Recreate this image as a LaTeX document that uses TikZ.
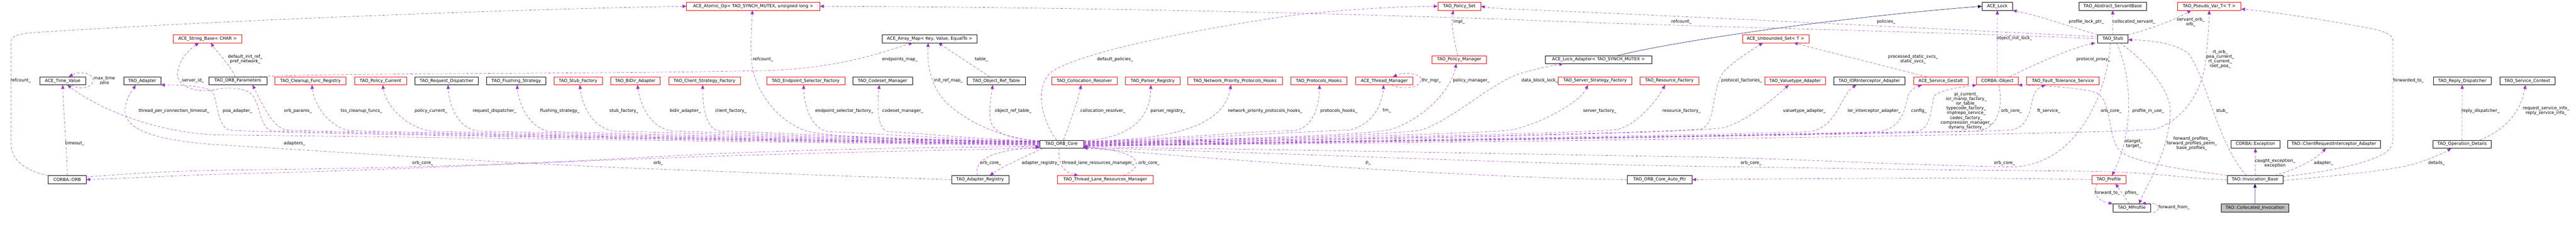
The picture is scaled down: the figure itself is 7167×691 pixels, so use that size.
\documentclass[tikz,border=0pt]{standalone}
\usepackage{fontspec}
\setmainfont{DejaVu Sans}
\usetikzlibrary{arrows.meta}
\definecolor{edgepurple}{RGB}{154,50,205}
\definecolor{basenavy}{RGB}{25,25,112}

\begin{document}
\begin{tikzpicture}[
        x=1pt, y=-1pt,
        box/.style={rectangle, draw, fill=white, line width=0.8pt, minimum height=22pt, inner sep=3pt, font=\fontsize{12}{13}\selectfont},
        redbox/.style={box, draw=red},
        rootbox/.style={box, fill=black!25},
        lbl/.style={inner sep=0pt, align=center, font=\fontsize{12}{13}\selectfont},
        memberedge/.style={draw=edgepurple, line width=0.8pt, dash pattern=on 7pt off 5pt, -{Triangle[length=11pt,width=9pt]}},
        baseedge/.style={draw=basenavy, line width=0.9pt, -{Triangle[length=11pt,width=9pt]}}
    ]
        \useasboundingbox (0,0) rectangle (7167,691);

        \node[redbox, minimum width=370.5pt] (atomic) at (2095.5,17.4) {ACE\_Atomic\_Op< TAO\_SYNCH\_MUTEX, unsigned long >};
        \node[redbox, minimum width=119.4pt] (pset) at (4060,17.4) {TAO\_Policy\_Set};
        \node[box, minimum width=85pt] (acelock) at (5556.9,17.4) {ACE\_Lock};
        \node[box, minimum width=189pt] (servbase) at (5878,17.4) {TAO\_Abstract\_ServantBase};
        \node[redbox, minimum width=176.4pt] (pvar) at (6146.4,17.4) {TAO\_Pseudo\_Var\_T< T >};

        \node[redbox, minimum width=189.7pt] (strbase) at (577.5,107.7) {ACE\_String\_Base< CHAR >};
        \node[box, minimum width=264.5pt] (amap) at (2586.5,107.7) {ACE\_Array\_Map< Key, Value, EqualTo >};
        \node[redbox, minimum width=184.8pt] (uset) at (4939.9,107.7) {ACE\_Unbounded\_Set< T >};
        \node[box, minimum width=84.2pt] (stub) at (5878.4,107.7) {TAO\_Stub};

        \node[redbox, minimum width=152.3pt] (pmgr) at (4059.7,165.9) {TAO\_Policy\_Manager};
        \node[box, minimum width=295.8pt] (lockad) at (4447.4,165.9) {ACE\_Lock\_Adapter< TAO\_SYNCH\_MUTEX >};

        \node[box, minimum width=128.6pt] (timeval) at (174.5,224.8) {ACE\_Time\_Value};
        \node[box, minimum width=103pt] (adapter) at (395.9,224.8) {TAO\_Adapter};
        \node[box, minimum width=162.2pt] (orbparams) at (661.6,224.8) {TAO\_ORB\_Parameters};
        \node[redbox, minimum width=198.2pt] (cleanup) at (863.7,224.8) {TAO\_Cleanup\_Func\_Registry};
        \node[redbox, minimum width=144.3pt] (pcurrent) at (1058.7,224.8) {TAO\_Policy\_Current};
        \node[box, minimum width=176pt] (reqdisp) at (1242.5,224.8) {TAO\_Request\_Dispatcher};
        \node[box, minimum width=164.6pt] (flush) at (1436.5,224.8) {TAO\_Flushing\_Strategy};
        \node[redbox, minimum width=135.1pt] (stubfac) at (1608.2,224.8) {TAO\_Stub\_Factory};
        \node[redbox, minimum width=138.4pt] (bidir) at (1767.5,224.8) {TAO\_BiDir\_Adapter};
        \node[redbox, minimum width=199pt] (clientfac) at (1960,224.8) {TAO\_Client\_Strategy\_Factory};
        \node[redbox, minimum width=218.1pt] (endpfac) at (2241.7,224.8) {TAO\_Endpoint\_Selector\_Factory};
        \node[box, minimum width=166pt] (codeset) at (2455.5,224.8) {TAO\_Codeset\_Manager};
        \node[box, minimum width=161.5pt] (oreftab) at (2772,224.8) {TAO\_Object\_Ref\_Table};
        \node[redbox, minimum width=180.9pt] (collres) at (3017,224.8) {TAO\_Collocation\_Resolver};
        \node[redbox, minimum width=151.5pt] (parser) at (3207,224.8) {TAO\_Parser\_Registry};
        \node[redbox, minimum width=263.3pt] (npph) at (3435.9,224.8) {TAO\_Network\_Priority\_Protocols\_Hooks};
        \node[redbox, minimum width=157.2pt] (phooks) at (3669.1,224.8) {TAO\_Protocols\_Hooks};
        \node[redbox, minimum width=160pt] (thrmgr) at (3851.4,224.8) {ACE\_Thread\_Manager};
        \node[redbox, minimum width=204.3pt] (servfac) at (4437.7,224.8) {TAO\_Server\_Strategy\_Factory};
        \node[redbox, minimum width=164.2pt] (resfac) at (4644.5,224.8) {TAO\_Resource\_Factory};
        \node[redbox, minimum width=168.4pt] (valadapt) at (4994.4,224.8) {TAO\_Valuetype\_Adapter};
        \node[box, minimum width=197.5pt] (iorint) at (5201,224.8) {TAO\_IORInterceptor\_Adapter};
        \node[redbox, minimum width=151.9pt] (gestalt) at (5399.5,224.8) {ACE\_Service\_Gestalt};
        \node[redbox, minimum width=115.2pt] (corbaobj) at (5557.1,224.8) {CORBA::Object};
        \node[redbox, minimum width=202.1pt] (ftserv) at (5739.5,224.8) {TAO\_Fault\_Tolerance\_Service};
        \node[box, minimum width=159.6pt] (replydisp) at (6850.4,224.8) {TAO\_Reply\_Dispatcher};
        \node[box, minimum width=153.5pt] (svcctx) at (7031.5,224.8) {TAO\_Service\_Context};

        \node[box, minimum width=122pt] (orbcore) at (2953.5,400.9) {TAO\_ORB\_Core};
        \node[box, minimum width=135.1pt] (exception) at (6275,400.9) {CORBA::Exception};
        \node[box, minimum width=258.2pt] (cria) at (6493.4,400.9) {TAO::ClientRequestInterceptor\_Adapter};
        \node[box, minimum width=163pt] (opdet) at (6849.8,400.9) {TAO\_Operation\_Details};

        \node[box, minimum width=105.3pt] (orb) at (187,499.4) {CORBA::ORB};
        \node[box, minimum width=159.2pt] (adreg) at (2726.8,499.4) {TAO\_Adapter\_Registry};
        \node[redbox, minimum width=265.5pt] (tlrm) at (3075,499.4) {TAO\_Thread\_Lane\_Resources\_Manager};
        \node[box, minimum width=179.9pt] (autoptr) at (4617.5,499.4) {TAO\_ORB\_Core\_Auto\_Ptr};
        \node[redbox, minimum width=94.9pt] (profile) at (5866.9,499.4) {TAO\_Profile};
        \node[box, minimum width=155pt] (invbase) at (6273.8,499.4) {TAO::Invocation\_Base};

        \node[box, minimum width=104.8pt] (mprofile) at (5930.8,578.1) {TAO\_MProfile};
        \node[rootbox, minimum width=187.1pt] (collinv) at (6273.9,578.1) {TAO::Collocated\_Invocation};

        \draw[memberedge] (orbcore.184) .. controls (2000,392) and (900,378) .. (600,375) .. controls (430,368) and (270,300) .. ([xshift=13pt]timeval.south);
        \draw[memberedge] ([xshift=24pt]timeval.south) .. controls (215,248) and (250,248) .. (258,228) .. controls (265,205) and (225,195) .. ([xshift=17pt]timeval.north);
        \draw[memberedge] (orbcore.182) .. controls (2000,390) and (950,370) .. (760,364) .. controls (725,361) and (725,300) .. (705,268) .. controls (690,245) and (640,240) .. (600,249) .. controls (545,260) and (492,240) .. (494,205) .. controls (496,165) and (530,135) .. ([xshift=-24pt]strbase.south);
        \draw[memberedge] (orbcore.181) .. controls (2000,390) and (800,372) .. (640,362) .. controls (605,356) and (605,280) .. (592,256) .. controls (575,240) and (520,237) .. (adapter.south east);
        \draw[memberedge] (orbcore.180) .. controls (2000,388) and (1000,368) .. (800,362) .. controls (760,358) and (730,290) .. ([xshift=41pt]orbparams.south);
        \draw[memberedge] ([xshift=-7pt]orbparams.north) .. controls (640,180) and (600,140) .. ([xshift=9pt]strbase.south);
        \draw[memberedge] ([xshift=60pt]orbparams.north) .. controls (850,203) and (1700,206) .. (2140,196) .. controls (2350,188) and (2470,140) .. ([xshift=-47pt]amap.south);
        \draw[memberedge] (orbcore.179) .. controls (2000,388) and (1150,368) .. (975,363) .. controls (925,358) and (875,300) .. ([xshift=4pt]cleanup.south);
        \draw[memberedge] (orbcore.178) .. controls (2100,388) and (1400,370) .. (1205,365) .. controls (1140,360) and (1075,300) .. ([xshift=6pt]pcurrent.south);
        \draw[memberedge] (orbcore.177) .. controls (2200,388) and (1550,370) .. (1330,364) .. controls (1280,360) and (1250,300) .. ([xshift=4pt]reqdisp.south);
        \draw[memberedge] (orbcore.176) .. controls (2250,386) and (1700,370) .. (1535,366) .. controls (1480,362) and (1445,300) .. ([xshift=2pt]flush.south);
        \draw[memberedge] (orbcore.175) .. controls (2300,386) and (1850,368) .. (1710,364) .. controls (1655,360) and (1620,300) .. ([xshift=5pt]stubfac.south);
        \draw[memberedge] (orbcore.174) .. controls (2400,386) and (2000,368) .. (1870,364) .. controls (1820,358) and (1785,310) .. ([xshift=6pt]bidir.south);
        \draw[memberedge] (orbcore.174) .. controls (2450,386) and (2150,368) .. (2000,364) .. controls (1965,358) and (1955,300) .. ([xshift=-5pt]clientfac.south);
        \draw[memberedge] (orbcore.173) .. controls (2600,392) and (2330,384) .. (2250,366) .. controls (2175,345) and (2095,260) .. (2090,160) .. controls (2088,100) and (2092,60) .. ([xshift=-2pt]atomic.south);
        \draw[memberedge] (orbcore.173) .. controls (2650,388) and (2420,370) .. (2305,366) .. controls (2260,360) and (2238,300) .. ([xshift=-6pt]endpfac.south);
        \draw[memberedge] (orbcore.172) .. controls (2750,390) and (2560,370) .. (2470,366) .. controls (2440,360) and (2440,290) .. ([xshift=-9pt]codeset.south);
        \draw[memberedge] (orbcore.172) .. controls (2800,385) and (2710,350) .. (2650,300) .. controls (2600,262) and (2578,200) .. ([xshift=-4pt]amap.south);
        \draw[memberedge] (orbcore.171) .. controls (2820,388) and (2758,372) .. (2755,330) .. controls (2752,290) and (2758,265) .. ([xshift=-10pt]oreftab.south);
        \draw[memberedge] ([xshift=-18pt]oreftab.north) .. controls (2705,182) and (2650,145) .. ([xshift=24pt]amap.south);

        \draw[memberedge] (orb.north west) .. controls (70,475) and (31,445) .. (31,400) -- (31,115) .. controls (31,100) and (50,94) .. (100,90) .. controls (700,52) and (1500,24) .. (atomic.west);
        \draw[memberedge] (orb.north) .. controls (185,400) and (176,300) .. (timeval.south);
        \draw[memberedge] (orb.8) .. controls (400,480) and (500,474) .. (700,472) .. controls (1000,469) and (1400,460) .. (1800,437) .. controls (2200,414) and (2600,410) .. (orbcore.186);
        \draw[memberedge] (orbcore.190) .. controls (2600,418) and (2200,426) .. (1800,441) .. controls (1500,452) and (1100,472) .. (700,482) .. controls (500,487) and (350,496) .. (orb.east);
        \draw[memberedge] (adreg.west) .. controls (2500,495) and (2200,484) .. (1800,469) .. controls (1400,454) and (900,420) .. (600,402) .. controls (430,390) and (345,360) .. (348,305) .. controls (350,270) and (370,250) .. ([xshift=-19pt]adapter.south);

        \draw[memberedge] ([xshift=-52pt]orbcore.south) .. controls (2860,432) and (2790,462) .. ([xshift=27pt]adreg.north);
        \draw[memberedge] ([xshift=-7pt]adreg.north) .. controls (2708,450) and (2750,418) .. (orbcore.188);
        \draw[memberedge] ([xshift=-6pt]orbcore.south) .. controls (2940,450) and (2960,480) .. ([xshift=-75pt]tlrm.north);
        \draw[memberedge] ([xshift=51pt]tlrm.north) .. controls (3190,460) and (3175,420) .. (orbcore.-7);
        \draw[memberedge] ([xshift=5pt]orbcore.north) .. controls (2978,340) and (3000,275) .. ([xshift=-9pt]collres.south);
        \draw[memberedge] ([xshift=-14pt]orbcore.north) .. controls (2890,320) and (2885,240) .. (2920,205) .. controls (2960,165) and (3200,100) .. (3600,42) .. controls (3750,25) and (3900,18) .. (pset.west);

        \draw[memberedge] (orbcore.9) .. controls (3130,385) and (3200,340) .. ([xshift=-5pt]parser.south);
        \draw[memberedge] (orbcore.8) .. controls (3280,390) and (3405,345) .. ([xshift=-11pt]npph.south);
        \draw[memberedge] (orbcore.7) .. controls (3250,388) and (3450,366) .. (3600,363) .. controls (3650,358) and (3670,300) .. ([xshift=2pt]phooks.south);
        \draw[memberedge] (orbcore.6) .. controls (3300,388) and (3600,366) .. (3750,362) .. controls (3810,352) and (3845,300) .. ([xshift=-2pt]thrmgr.south);
        \draw[memberedge] ([xshift=20pt]thrmgr.south) .. controls (3895,248) and (3945,248) .. (3953,225) .. controls (3960,205) and (3910,198) .. ([xshift=24pt]thrmgr.north);
        \draw[memberedge] (orbcore.5) .. controls (3350,388) and (3790,378) .. (3870,360) .. controls (3960,330) and (4035,255) .. ([xshift=-8pt]pmgr.south);
        \draw[memberedge] ([xshift=-4pt]pmgr.north) .. controls (4045,110) and (4036,60) .. ([xshift=-16pt]pset.south);
        \draw[memberedge] (orbcore.4) .. controls (3400,388) and (3880,378) .. (3960,360) .. controls (4060,320) and (4150,230) .. (4230,204) .. controls (4280,190) and (4320,182) .. ([xshift=-98pt]lockad.south);
        \draw[baseedge] ([xshift=53pt]lockad.north) .. controls (4680,110) and (5150,45) .. (acelock.west);
        \draw[memberedge] (orbcore.3) .. controls (3500,388) and (4100,372) .. (4200,362) .. controls (4290,345) and (4400,280) .. ([xshift=-20pt]servfac.south);
        \draw[memberedge] (orbcore.2) .. controls (3600,388) and (4420,370) .. (4500,360) .. controls (4560,345) and (4615,270) .. ([xshift=-12pt]resfac.south);
        \draw[memberedge] (orbcore.1) .. controls (3700,388) and (4680,368) .. (4736,358) .. controls (4775,340) and (4760,250) .. (4795,200) .. controls (4830,165) and (4880,135) .. ([xshift=-35pt]uset.south);
        \draw[memberedge] (orbcore.0) .. controls (3800,388) and (4720,370) .. (4795,355) .. controls (4860,338) and (4940,270) .. ([xshift=-18pt]valadapt.south);
        \draw[memberedge] (orbcore.-1) .. controls (3900,390) and (4950,372) .. (5030,366) .. controls (5110,360) and (5120,265) .. ([xshift=-36pt]iorint.south);
        \draw[memberedge] (orbcore.-2) .. controls (4000,390) and (5140,372) .. (5221,366) .. controls (5300,360) and (5300,290) .. (5310,262) .. controls (5318,248) and (5330,241) .. ([xshift=-52pt]gestalt.south);
        \draw[memberedge] ([xshift=-40pt]gestalt.north) .. controls (5250,185) and (5100,148) .. ([xshift=51pt]uset.south);
        \draw[memberedge] (orbcore.-3) .. controls (4100,390) and (5260,370) .. (5336,364) .. controls (5375,358) and (5372,290) .. (5382,266) .. controls (5400,250) and (5450,243) .. (corbaobj.south west);
        \draw[memberedge] ([xshift=4pt]corbaobj.south) .. controls (5575,300) and (5555,362) .. (5500,364) .. controls (4500,385) and (3500,398) .. (orbcore.-6);
        \draw[memberedge] (corbaobj.north) -- (acelock.south);
        \draw[memberedge] ([xshift=34pt]corbaobj.north) .. controls (5680,170) and (5760,135) .. ([xshift=-49pt]stub.south);
        \draw[memberedge] (orbcore.-4) .. controls (4200,390) and (5500,368) .. (5591,362) .. controls (5650,356) and (5648,290) .. (5660,260) .. controls (5668,246) and (5680,240) .. ([xshift=-48pt]ftserv.south);
        \draw[memberedge] (orbcore.-5) .. controls (4400,392) and (5940,372) .. (6000,358) .. controls (6080,330) and (6125,250) .. (6135,180) .. controls (6142,120) and (6146,70) .. (pvar.south);

        \draw[memberedge] (stub.172) .. controls (5500,86) and (4700,45) .. (4200,25) .. controls (4160,23) and (4140,21) .. (pset.east);
        \draw[memberedge] (stub.west) .. controls (5400,88) and (4700,75) .. (4200,54) .. controls (3500,30) and (2800,19) .. (atomic.east);
        \draw[memberedge] (stub.north west) .. controls (5760,75) and (5680,45) .. (acelock.south east);
        \draw[memberedge] (stub.north) -- (servbase.south);
        \draw[memberedge] (stub.north east) .. controls (5990,80) and (6060,50) .. ([xshift=-50pt]pvar.south);
        \draw[memberedge] ([xshift=19pt]stub.south) .. controls (5965,165) and (6040,250) .. (6038,310) .. controls (6035,420) and (5980,500) .. ([xshift=20pt]mprofile.north);
        \draw[memberedge] ([xshift=10pt]stub.south) .. controls (5935,220) and (5935,370) .. ([xshift=9pt]profile.north);
        \draw[memberedge] ([xshift=-6pt]stub.south) .. controls (5862,260) and (5780,458) .. (5600,464) .. controls (5250,458) and (5000,441) .. (4700,436) .. controls (4200,428) and (3400,412) .. (orbcore.-8);

        \draw[memberedge] (profile.west) .. controls (5500,492) and (5000,497) .. (autoptr.east);
        \draw[memberedge] (autoptr.west) .. controls (4100,495) and (3400,445) .. (orbcore.-9);
        \draw[memberedge] ([xshift=-31pt]profile.south) .. controls (5818,535) and (5835,558) .. (mprofile.north west);
        \draw[memberedge] ([xshift=-7pt]mprofile.north) -- ([xshift=19pt]profile.south);
        \draw[memberedge] ([xshift=-5pt]mprofile.south east) .. controls (6000,594) and (6008,582) .. (6004,574) .. controls (6000,566) and (5985,563) .. ([xshift=28pt]mprofile.north);

        \draw[memberedge] ([xshift=-24pt]invbase.north) .. controls (6170,400) and (6140,220) .. (6090,150) .. controls (6050,118) and (5980,112) .. ([yshift=-3pt]stub.east);
        \draw[memberedge] (invbase.north west) .. controls (6100,475) and (5950,455) .. (5905,425) .. controls (5860,395) and (5880,275) .. (5830,257) .. controls (5780,242) and (5680,238) .. (corbaobj.south east);
        \draw[memberedge] (invbase.west) .. controls (6100,499) and (6000,478) .. (5800,476) .. controls (5300,472) and (5000,466) .. (4700,462) .. controls (4200,455) and (3400,418) .. (orbcore.-10);
        \draw[memberedge] ([xshift=1pt]invbase.north) -- (exception.south);
        \draw[memberedge] ([xshift=55pt]invbase.north) .. controls (6390,470) and (6440,445) .. ([xshift=-22pt]cria.south);
        \draw[memberedge] (invbase.6) .. controls (6480,478) and (6600,452) .. (6640,422) .. controls (6656,408) and (6658,395) .. (6658,380) -- (6658,115) .. controls (6658,97) and (6640,88) .. (6590,78) .. controls (6450,52) and (6300,30) .. (pvar.-5);
        \draw[memberedge] (invbase.-2) .. controls (6500,488) and (6650,475) .. (6720,455) .. controls (6770,438) and (6800,425) .. ([xshift=-30pt]opdet.south);
        \draw[memberedge] (opdet.north) -- (replydisp.south);
        \draw[memberedge] ([xshift=50pt]opdet.north) .. controls (6960,365) and (7012,320) .. ([xshift=-5pt]svcctx.south);
        \draw[baseedge] (collinv.north) -- (invbase.south);

        \node[lbl] (lrefcnta) at (57.5,224) {refcount\_};
        \node[lbl] (lmaxtime) at (290.5,224) {max\_time\\zero};
        \node[lbl] (ltimeout) at (208,399) {timeout\_};
        \node[lbl] (ltpct) at (484,308) {thread\_per\_connection\_timeout\_};
        \node[lbl] (lserverid) at (536.7,224) {server\_id\_};
        \node[lbl] (ldefinit) at (682.3,164.6) {default\_init\_ref\_\\pref\_network\_};
        \node[lbl] (lpoa) at (660.9,308) {poa\_adapter\_};
        \node[lbl] (lorbparams) at (829,308) {orb\_params\_};
        \node[lbl] (ladapters) at (819.3,399) {adapters\_};
        \node[lbl] (ltss) at (1005.6,308) {tss\_cleanup\_funcs\_};
        \node[lbl] (lpolcur) at (1198.9,308) {policy\_current\_};
        \node[lbl] (lorbcorea) at (1176,453) {orb\_core\_};
        \node[lbl] (lreqdisp) at (1375.7,308) {request\_dispatcher\_};
        \node[lbl] (lflush) at (1557.4,308) {flushing\_strategy\_};
        \node[lbl] (lstubfac) at (1735.8,308) {stub\_factory\_};
        \node[lbl] (lbidir) at (1906.4,308) {bidir\_adapter\_};
        \node[lbl] (lclientfac) at (2033.3,308) {client\_factory\_};
        \node[lbl] (lorb) at (1831.2,453) {orb\_};
        \node[lbl] (lrefcntb) at (2122.8,164.6) {refcount\_};
        \node[lbl] (lendpsel) at (2348.8,308) {endpoint\_selector\_factory\_};
        \node[lbl] (lendpmap) at (2503.7,164.6) {endpoints\_map\_};
        \node[lbl] (lcodeset) at (2511.6,308) {codeset\_manager\_};
        \node[lbl] (linitref) at (2638.2,224) {init\_ref\_map\_};
        \node[lbl] (ltable) at (2730.7,164.6) {table\_};
        \node[lbl] (loreftab) at (2818.9,308) {object\_ref\_table\_};
        \node[lbl] (lorbcoreb) at (2755.9,453.5) {orb\_core\_};
        \node[lbl] (ladreg) at (2895,453.5) {adapter\_registry\_};
        \node[lbl] (ltlrm) at (3055.1,453.5) {thread\_lane\_resources\_manager\_};
        \node[lbl] (lorbcorec) at (3196.7,453.5) {orb\_core\_};
        \node[lbl] (ldefpol) at (3102.4,164.6) {default\_policies\_};
        \node[lbl] (lcollres) at (3068.3,308) {collocation\_resolver\_};
        \node[lbl] (lparser) at (3249,308) {parser\_registry\_};
        \node[lbl] (lnpph) at (3519.7,308) {network\_priority\_protocols\_hooks\_};
        \node[lbl] (lphooks) at (3724.8,308) {protocols\_hooks\_};
        \node[lbl] (ltm) at (3858.3,308) {tm\_};
        \node[lbl] (lthrmgr) at (3981.9,224) {thr\_mgr\_};
        \node[lbl] (lpolmgr) at (4093.3,224) {policy\_manager\_};
        \node[lbl] (limpl) at (4059.2,61.2) {impl\_};
        \node[lbl] (lp) at (3806.5,453.5) {p\_};
        \node[lbl] (lrefcntc) at (4677.8,61.2) {refcount\_};
        \node[lbl] (ldblock) at (4283.6,224) {data\_block\_lock\_};
        \node[lbl] (lservfac) at (4450.6,308) {server\_factory\_};
        \node[lbl] (lresfac) at (4678.4,308) {resource\_factory\_};
        \node[lbl] (lprotfac) at (4845.4,224) {protocol\_factories\_};
        \node[lbl] (lpolicies) at (5247.6,61.2) {policies\_};
        \node[lbl] (lstatsvcs) at (5322.4,164.6) {processed\_static\_svcs\_\\static\_svcs\_};
        \node[lbl] (lvaladapt) at (5020,308) {valuetype\_adapter\_};
        \node[lbl] (liorint) at (5213.9,308) {ior\_interceptor\_adapter\_};
        \node[lbl] (lconfig) at (5338.7,308) {config\_};
        \node[lbl] (lorbcored) at (4871.8,453.5) {orb\_core\_};
        \node[lbl] (lobjinit) at (5604.4,106.4) {object\_init\_lock\_};
        \node[lbl] (lproflock) at (5804.7,61.2) {profile\_lock\_ptr\_};
        \node[lbl] (lcollserv) at (5936.8,61.2) {collocated\_servant\_};
        \node[lbl] (lprotproxy) at (5824.2,164.6) {protocol\_proxy\_};
        \node[lbl] (lpicur) at (5470.4,308.5) {pi\_current\_\\ior\_manip\_factory\_\\ior\_table\_\\typecode\_factory\_\\implrepo\_service\_\\codec\_factory\_\\compression\_manager\_\\dynany\_factory\_};
        \node[lbl] (lorbcoree) at (5596.2,308) {orb\_core\_};
        \node[lbl] (lftserv) at (5700,308) {ft\_service\_};
        \node[lbl] (lorbcoref) at (5873.6,308) {orb\_core\_};
        \node[lbl] (lprofinuse) at (5976.5,308) {profile\_in\_use\_};
        \node[lbl] (ltarget) at (5936.3,400.2) {otarget\_\\target\_};
        \node[lbl] (lorbcoreg) at (5577,453.5) {orb\_core\_};
        \node[lbl] (lfwdto) at (5863,537) {forward\_to\_};
        \node[lbl] (lpfiles) at (5930.6,537) {pfiles\_};
        \node[lbl] (lservorb) at (6094.9,61.8) {servant\_orb\_\\orb\_};
        \node[lbl] (lrtorb) at (6177,164.7) {rt\_orb\_\\poa\_current\_\\rt\_current\_\\root\_poa\_};
        \node[lbl] (lstub) at (6181.8,308) {stub\_};
        \node[lbl] (lfwdprof) at (6098,399.3) {forward\_profiles\_\\forward\_profiles\_perm\_\\base\_profiles\_};
        \node[lbl] (lexcept) at (6329.7,453.5) {caught\_exception\_\\exception};
        \node[lbl] (ladapter) at (6464.5,453.5) {adapter\_};
        \node[lbl] (lfwdfrom) at (6048.8,576) {forward\_from\_};
        \node[lbl] (lfwdedto) at (6700.6,224) {forwarded\_to\_};
        \node[lbl] (lreplydisp) at (6901.3,308) {reply\_dispatcher\_};
        \node[lbl] (lsvcinfo) at (7083.7,308.5) {request\_service\_info\_\\reply\_service\_info\_};
        \node[lbl] (ldetails) at (6778.8,453.5) {details\_};
    \end{tikzpicture}
\end{document}
